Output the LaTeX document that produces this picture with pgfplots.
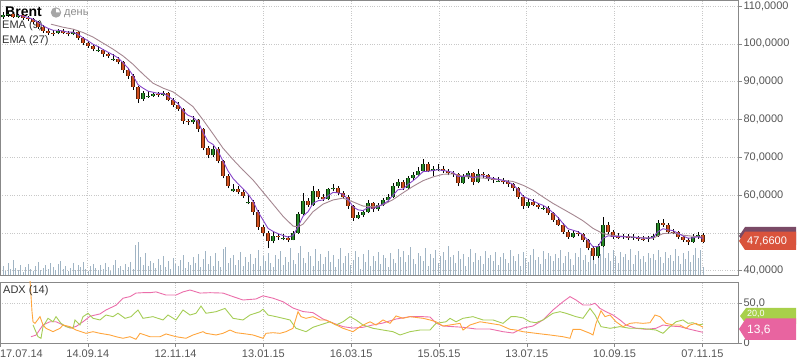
\documentclass[border=0pt]{standalone}
\usepackage{pgfplots}
\pgfplotsset{compat=1.18}
\usepackage{pgfplotstable}
\usepackage{fontspec}
\setmainfont{Liberation Sans}
\definecolor{cup}{RGB}{40,140,40}
\definecolor{cdn}{RGB}{210,80,30}
\definecolor{ema9}{RGB}{135,70,200}
\definecolor{ema27}{RGB}{165,135,145}
\definecolor{vol}{RGB}{160,180,196}
\definecolor{adx}{RGB}{235,110,170}
\definecolor{pdi}{RGB}{165,205,85}
\definecolor{mdi}{RGB}{255,165,60}
\definecolor{gridc}{RGB}{200,200,200}
\definecolor{axc}{RGB}{136,136,136}
\definecolor{labc}{RGB}{85,85,85}
\definecolor{tagred}{RGB}{217,83,60}
\definecolor{tagpur}{RGB}{122,74,102}
\definecolor{taggrn}{RGB}{168,208,74}
\definecolor{tagpink}{RGB}{232,100,160}

\pgfplotstableread{
x o h l c
0 107.0 108.3 106.6 107.5
5 107.5 108.6 107.2 108.0
10 108.0 108.4 106.8 107.2
15 107.0 108.0 106.9 107.5
20 107.5 107.8 106.2 106.8
25 106.8 107.3 106.0 106.5
30 106.5 106.9 105.3 105.8
35 105.8 106.0 104.0 104.5
40 104.5 104.9 103.0 103.5
45 103.5 104.0 102.4 103.0
50 103.0 103.6 102.2 102.8
55 102.8 104.0 102.5 103.5
60 103.5 103.9 102.6 103.0
65 103.0 103.4 102.0 102.6
70 102.6 103.8 102.3 103.2
75 103.2 103.5 101.0 101.5
80 101.5 101.9 99.6 100.2
85 100.2 100.8 99.0 99.5
90 99.5 99.9 98.0 98.6
95 98.0 99.3 97.8 98.3
100 98.3 98.6 96.6 97.2
105 97.2 97.8 96.2 96.8
110 95.8 97.3 95.5 96.0
115 96.0 96.6 94.6 95.2
120 95.2 95.5 92.4 93.0
125 93.0 93.5 90.8 91.5
130 91.5 91.9 87.8 88.5
135 88.5 88.9 84.4 85.5
140 85.5 87.6 85.0 87.0
145 86.0 87.4 85.8 86.3
150 86.3 87.3 86.0 86.8
155 86.8 87.2 85.9 86.5
160 86.5 87.5 86.1 86.9
165 86.9 87.2 84.8 85.2
170 85.2 85.6 83.2 83.8
175 83.8 84.5 82.3 82.8
180 82.8 83.0 78.8 79.5
185 79.5 80.1 78.6 79.2
190 79.2 80.9 78.9 79.8
195 79.8 80.2 76.8 77.5
200 77.5 77.8 71.8 72.5
205 72.5 73.0 69.8 70.5
210 70.5 73.0 70.0 72.3
215 72.3 72.6 68.4 69.0
220 69.0 69.4 64.4 65.0
225 65.0 65.5 61.8 62.5
230 61.0 63.0 60.8 61.5
235 61.5 62.4 60.2 60.8
240 60.8 61.6 59.2 59.8
245 57.8 60.3 57.6 58.2
250 58.2 58.6 54.8 55.5
255 55.5 56.0 50.8 51.5
260 51.5 52.0 49.3 50.0
265 50.0 50.4 45.9 47.8
270 47.8 50.2 47.2 49.3
275 49.3 49.8 48.2 48.8
280 48.3 49.6 48.0 48.6
285 48.6 49.2 47.6 48.2
290 48.2 50.6 48.0 50.0
295 50.0 55.6 49.8 55.0
300 55.0 60.5 54.6 58.5
305 58.5 59.2 56.9 57.5
310 57.5 62.3 57.2 61.0
315 61.0 61.5 58.9 59.5
320 59.5 60.2 58.4 59.0
325 59.0 62.0 58.6 61.5
330 61.5 62.9 61.0 62.0
335 62.0 62.4 60.0 60.5
340 60.5 61.0 58.9 59.5
345 59.5 59.9 56.4 57.0
350 57.0 57.4 53.2 54.0
355 54.0 55.5 53.6 54.8
360 54.8 56.0 54.2 55.5
365 55.5 58.8 55.2 57.8
370 57.8 58.2 55.6 56.2
375 56.2 58.0 55.8 57.5
380 57.5 59.3 57.1 58.6
385 58.6 60.4 58.2 59.5
390 59.5 63.2 59.2 62.5
395 62.5 64.3 62.0 63.5
400 63.5 63.9 61.4 62.0
405 62.0 65.1 61.7 64.5
410 64.5 66.0 64.0 65.3
415 65.3 67.3 65.0 66.5
420 66.5 69.5 66.2 68.2
425 68.2 68.7 66.0 66.5
430 66.5 67.6 65.0 66.8
435 66.8 68.2 66.3 67.0
440 67.0 67.6 65.8 66.3
445 66.3 66.9 65.2 65.9
450 65.9 66.5 64.9 65.5
455 65.5 65.9 62.4 63.2
460 63.2 65.6 62.9 64.8
465 64.8 66.4 64.3 65.8
470 65.8 66.2 62.6 63.5
475 63.5 66.9 63.1 65.5
480 65.5 66.1 64.6 65.2
485 65.2 65.7 63.6 64.2
490 64.2 64.7 63.2 63.9
495 63.5 64.9 63.4 63.8
500 63.8 64.4 62.8 63.4
505 63.4 63.9 62.2 62.8
510 62.8 63.2 61.2 61.8
515 61.8 62.1 58.9 59.5
520 59.5 59.9 56.3 57.0
525 57.0 58.9 56.6 58.3
530 58.3 58.9 57.0 57.5
535 57.5 58.0 56.2 56.8
540 56.3 57.4 56.1 56.6
545 56.6 57.0 54.7 55.2
550 55.2 55.6 53.0 53.5
555 53.5 54.2 51.8 52.2
560 52.2 52.6 49.7 50.2
565 50.2 50.8 48.4 49.0
570 49.0 50.6 48.6 50.0
575 50.0 50.5 49.1 49.6
580 49.6 50.0 47.6 48.1
585 48.1 48.5 45.4 46.0
590 46.0 46.4 42.8 43.8
595 43.8 47.1 43.4 46.5
600 46.5 54.3 46.2 52.0
605 52.0 52.9 49.6 50.2
610 50.2 50.8 48.4 49.0
615 49.0 49.9 48.3 48.9
620 48.9 49.8 48.4 49.1
625 49.1 49.7 48.1 48.7
630 48.7 49.6 48.2 48.8
635 48.8 49.3 47.9 48.5
640 48.5 49.2 47.8 48.4
645 48.4 49.1 47.6 48.6
650 48.6 49.8 48.2 49.2
655 49.2 53.5 49.0 52.5
660 52.5 53.6 51.6 52.2
665 52.2 52.6 49.8 50.3
670 50.3 51.0 49.6 50.2
675 50.2 50.6 48.3 48.8
680 48.8 49.3 47.6 48.2
685 48.2 48.6 46.9 47.6
690 47.6 49.6 47.3 48.9
695 48.9 50.3 48.5 49.4
700 49.4 49.9 47.2 47.66
}\candles

\pgfplotsset{panel/.style={scale only axis, width=738pt, xmin=-3, xmax=735, anchor=south west,
  axis line style={axc, line width=0.8pt},
  xtick={-3,84.8,172.6,260.4,348.2,436,523.8,611.6,699.4},
  tick align=outside, major tick length=4pt,
  tick style={axc, line width=0.6pt},
  grid=major, major grid style={gridc, dotted, line width=0.7pt},
  ticklabel style={font=\fontsize{11}{13}\selectfont, text=labc},
  ytick pos=right, yticklabel pos=right,
  yticklabel style={anchor=west, xshift=-2pt}}}

\begin{document}
\begin{tikzpicture}
% main frame
\begin{axis}[panel, at={(0pt,88pt)}, height=275pt, ymin=38.86, ymax=111.6,
  xticklabels={}, xtick style={draw=none},
  ytick={40,50,...,110},
  yticklabels={{40,0000},{},{60,0000},{70,0000},{80,0000},{90,0000},{100,0000},{110,0000}}]
\addplot[draw=none] coordinates {(0,50)};
\end{axis}
% volume
\begin{axis}[scale only axis, width=738pt, height=275pt, xmin=-3, xmax=735, ymin=0, ymax=275,
  anchor=south west, at={(0pt,88pt)}, hide axis]
\addplot[ycomb, vol, line width=1pt] table[row sep=\\, x expr=\coordindex*2.5, y index=0]{
9\\4\\12\\6\\15\\7\\5\\10\\3\\8\\11\\6\\4\\9\\13\\5\\7\\10\\6\\12\\
8\\5\\11\\14\\6\\9\\4\\7\\12\\5\\10\\8\\13\\6\\4\\9\\11\\7\\5\\10\\
6\\12\\8\\4\\10\\15\\7\\9\\5\\11\\8\\13\\6\\30\\33\\18\\10\\22\\9\\14\\
12\\7\\16\\10\\19\\8\\14\\6\\17\\11\\9\\15\\20\\7\\13\\10\\18\\12\\21\\8\\
16\\24\\11\\19\\9\\22\\14\\8\\26\\28\\12\\17\\20\\10\\15\\23\\9\\18\\13\\21\\
11\\17\\25\\9\\19\\14\\22\\12\\8\\20\\16\\24\\10\\18\\13\\27\\15\\11\\22\\29\\
17\\12\\23\\19\\9\\26\\14\\21\\11\\18\\24\\13\\20\\8\\16\\27\\12\\19\\22\\10\\
15\\24\\18\\6\\21\\13\\25\\9\\19\\14\\23\\11\\20\\17\\8\\22\\16\\12\\26\\18\\
24\\13\\20\\28\\16\\11\\22\\19\\14\\27\\9\\21\\17\\25\\12\\19\\23\\15\\29\\18\\
20\\12\\24\\16\\21\\9\\18\\26\\13\\22\\15\\19\\11\\24\\17\\20\\14\\23\\10\\18\\
22\\16\\12\\25\\19\\14\\21\\9\\23\\17\\13\\20\\26\\15\\18\\11\\24\\16\\22\\19\\
14\\21\\17\\25\\12\\19\\23\\16\\10\\22\\18\\27\\15\\20\\13\\24\\19\\11\\26\\21\\
28\\17\\22\\14\\25\\19\\12\\23\\18\\21\\15\\26\\11\\20\\24\\16\\19\\13\\22\\17\\
21\\15\\25\\18\\12\\23\\17\\20\\14\\26\\19\\11\\22\\16\\24\\13\\20\\27\\17\\25\\
8\\
};
\end{axis}
% labels
\node[anchor=west, font=\bfseries\fontsize{14}{16}\selectfont, inner sep=0pt] at (5pt,351pt) {Brent};
\fill[black!35] (56pt,350.5pt) circle (5.2pt);
\fill[white] (56pt,350.5pt) -- (56pt,354.5pt) arc (90:0:4pt) -- cycle;
\node[anchor=west, text=black!45, font=\fontsize{11}{13}\selectfont, inner sep=0pt] at (64pt,349.5pt) {день};
\node[anchor=west, text=black!80, font=\fontsize{11}{13}\selectfont, inner sep=0pt] at (2pt,337pt) {EMA (9)};
\node[anchor=west, text=black!80, font=\fontsize{11}{13}\selectfont, inner sep=0pt] at (2pt,322.5pt) {EMA (27)};
% price
\begin{axis}[scale only axis, width=738pt, height=275pt, xmin=-3, xmax=735, ymin=38.86, ymax=111.6,
  anchor=south west, at={(0pt,88pt)}, hide axis]
\addplot[quiver={u=0, v=\thisrow{h}-\thisrow{l}}, -, black, line width=0.7pt] table[x=x, y=l]{\candles};
\addplot[quiver={u=0, v=\thisrow{c}-\thisrow{o}}, -, black!70!cup, line width=3.4pt,
  restrict expr to domain={\thisrow{c}-\thisrow{o}}{0:1000}] table[x=x, y=o]{\candles};
\addplot[quiver={u=0, v=\thisrow{c}-\thisrow{o}}, -, cup, line width=2.4pt,
  restrict expr to domain={\thisrow{c}-\thisrow{o}}{0:1000}] table[x=x, y=o]{\candles};
\addplot[quiver={u=0, v=\thisrow{c}-\thisrow{o}}, -, black!60!cdn, line width=3.4pt,
  restrict expr to domain={\thisrow{c}-\thisrow{o}}{-1000:-0.001}] table[x=x, y=o]{\candles};
\addplot[quiver={u=0, v=\thisrow{c}-\thisrow{o}}, -, cdn, line width=2.4pt,
  restrict expr to domain={\thisrow{c}-\thisrow{o}}{-1000:-0.001}] table[x=x, y=o]{\candles};
\addplot[ema27, line width=0.9pt] coordinates {(48,105.2)(60,104.4)(70,103.9)(80,103.0)(90,101.8)(100,100.2)(110,98.6)(120,96.8)(130,94.6)(140,92.0)(150,89.6)(160,88.3)(170,87.3)(180,85.4)(190,83.4)(200,79.9)(210,76.2)(220,72.4)(230,69.4)(240,66.6)(250,64.0)(260,60.8)(270,57.6)(280,54.4)(290,51.8)(295,51.6)(300,52.3)(310,55.6)(320,57.6)(330,58.7)(340,59.2)(350,58.2)(360,57.1)(370,56.9)(380,57.4)(390,58.8)(400,60.6)(410,62.3)(420,63.8)(430,64.8)(440,65.5)(450,65.6)(460,65.0)(470,64.6)(480,64.5)(490,64.2)(500,63.9)(510,63.6)(520,62.6)(530,61.3)(540,59.5)(550,57.8)(560,56.3)(570,54.8)(580,53.2)(590,51.2)(600,49.8)(610,49.3)(620,49.1)(630,48.9)(640,48.7)(650,48.6)(660,49.8)(670,50.0)(680,49.4)(690,49.1)(700,48.9)};
\addplot[ema9, line width=0.9pt] coordinates {(15,107.6)(20,107.3)(25,107.0)(30,106.5)(35,105.7)(40,104.8)(45,104.1)(50,103.6)(55,103.6)(60,103.4)(65,103.1)(70,103.1)(75,102.5)(80,101.6)(85,100.8)(90,99.9)(95,99.3)(100,98.5)(105,97.8)(110,97.1)(115,96.3)(120,95.0)(125,93.6)(130,91.6)(135,89.2)(140,88.3)(145,87.5)(150,87.2)(155,86.9)(160,86.9)(165,86.2)(170,85.2)(175,84.2)(180,82.3)(185,81.1)(190,80.6)(195,79.4)(200,76.6)(205,74.2)(210,73.4)(215,71.6)(220,69.0)(225,66.4)(230,64.4)(235,63.0)(240,61.7)(245,60.3)(250,58.4)(255,55.6)(260,53.4)(265,51.2)(270,50.4)(275,49.8)(280,49.3)(285,48.9)(290,49.3)(295,51.6)(300,54.4)(305,55.6)(310,57.8)(315,58.5)(320,58.7)(325,59.8)(330,60.7)(335,60.6)(340,60.2)(345,58.9)(350,56.9)(355,56.1)(360,55.9)(365,56.7)(370,56.5)(375,56.9)(380,57.6)(385,58.4)(390,60.0)(395,61.4)(400,61.6)(405,62.8)(410,63.8)(415,64.9)(420,66.2)(425,66.3)(430,66.5)(435,66.7)(440,66.5)(445,66.3)(450,66.0)(455,64.9)(460,64.9)(465,65.3)(470,64.6)(475,65.0)(480,65.1)(485,64.7)(490,64.4)(495,64.2)(500,63.9)(505,63.5)(510,62.8)(515,61.5)(520,59.7)(525,59.1)(530,58.5)(535,57.8)(540,57.3)(545,56.5)(550,55.3)(555,54.1)(560,52.5)(565,51.1)(570,50.7)(575,50.3)(580,49.4)(585,48.0)(590,46.3)(595,46.4)(600,48.6)(605,49.2)(610,49.1)(615,49.0)(620,49.0)(625,48.9)(630,48.9)(635,48.7)(640,48.6)(645,48.6)(650,48.8)(655,50.3)(660,51.1)(665,50.8)(670,50.6)(675,49.9)(680,49.2)(685,48.6)(690,48.7)(695,49.0)(700,48.5)};
\end{axis}
% ADX panel
\begin{axis}[panel, at={(0pt,20pt)}, height=61pt, ymin=0, ymax=77.6,
  xticklabels={{\makebox[0pt][l]{17.07.14}},14.09.14,12.11.14,13.01.15,16.03.15,15.05.15,13.07.15,10.09.15,07.11.15},
  xtick pos=bottom, xticklabel style={yshift=1pt},
  ytick={0,50}, yticklabels={0,{50,0}}]
\addplot[adx, line width=0.9pt] coordinates {(28,8)(33,10)(40,23)(47,27)(53,27)(60,23)(67,19)(73,21)(80,27)(87,34)(97,37)(103,42)(113,48)(120,57)(127,59)(133,63.5)(140,64)(147,64)(153,65)(163,61)(173,61)(180,65)(187,67.4)(197,63.5)(207,64)(220,63.5)(230,59)(240,54.7)(253,56)(260,60)(270,57)(280,52.5)(290,44.5)(300,40)(310,38.6)(320,30.5)(330,25.4)(340,20.8)(350,19)(360,20)(370,23)(380,25.4)(393,30.5)(407,33.5)(420,33.5)(427,33)(433,25.4)(440,21.6)(450,20.8)(460,20)(473,17.8)(487,17.8)(500,14.4)(510,12.7)(520,19)(530,21.6)(540,29.3)(550,42)(560,52.5)(567,59)(573,54.7)(580,48.3)(587,48.3)(592,50.5)(597,44)(603,39.8)(610,35.6)(617,29.3)(623,22.9)(633,18.7)(643,17.4)(653,18.7)(660,22.9)(667,21.6)(677,20.8)(687,17.4)(693,15.6)(700,13.6)};
\addplot[pdi, line width=0.9pt] coordinates {(30,23)(35,8)(38,6)(40,20.8)(45,31.4)(50,27)(53,33.5)(58,25)(63,20.8)(70,18.7)(72,29.3)(77,23)(80,33.5)(85,37.8)(90,31.4)(97,29.3)(103,35.6)(110,33.5)(115,37.8)(122,31.4)(128,33.5)(135,42)(140,31.4)(150,33.5)(160,29.3)(165,35.6)(173,29.3)(180,42)(187,35.6)(193,37.8)(198,47)(203,37.8)(213,39.8)(222,44)(230,31.4)(240,29.3)(247,35.6)(257,39.8)(260,43)(265,35.6)(273,33.5)(280,31.4)(287,29.3)(293,18.7)(303,14.4)(310,20)(317,22.9)(327,27)(333,22.9)(340,27)(347,33.5)(353,29.3)(360,22.9)(370,18.7)(380,16.5)(390,14.4)(397,10.2)(407,14.4)(417,16.5)(427,16.5)(433,25)(443,27)(447,31.4)(453,27)(460,31.4)(470,33.5)(480,29.3)(490,29.3)(500,25)(508,33.5)(513,33.5)(520,32)(527,27)(533,25.8)(540,29.3)(550,37.8)(557,39.8)(563,37.8)(573,33.5)(580,31.4)(587,44)(592,35.6)(598,20.8)(607,18.7)(617,20.8)(627,18.7)(637,18.7)(647,17.4)(653,16.5)(660,12.3)(667,20.8)(673,27)(680,29.3)(685,25)(690,25.8)(695,22.9)(700,24)};
\addplot[mdi, line width=0.9pt] coordinates {(27,80)(29,40)(30,27)(32,25)(37,33.5)(40,23)(43,18.7)(50,14.4)(57,18.7)(60,22.9)(67,20.8)(73,16.5)(83,12.3)(90,14.4)(97,12.3)(107,10.2)(113,8)(120,6)(127,8)(133,4.7)(137,12.3)(147,8)(157,8)(163,11.5)(173,8)(183,6)(190,10.2)(200,14.4)(203,12.3)(213,10.2)(220,12.3)(227,16.5)(233,13.1)(243,11.5)(250,10.2)(260,6)(263,12.3)(270,13.1)(277,12.3)(283,14.4)(290,18.7)(295,39.8)(298,33.5)(303,31.4)(310,33.5)(317,29.3)(323,29.3)(330,25)(340,18.7)(350,14.4)(357,20.8)(367,27)(373,22.9)(380,29.3)(387,25)(393,34.4)(400,31.4)(407,33.5)(420,31.4)(427,29.3)(433,27)(440,21.6)(447,22.9)(457,25)(460,16.5)(467,22.9)(477,27)(487,25)(497,22.9)(507,17.4)(513,16.5)(520,14.4)(533,12.3)(547,10.2)(560,8)(567,6)(570,17.4)(577,17.4)(587,12.3)(590,10.2)(593,25)(598,41)(602,33.5)(607,35.6)(613,27)(620,20.8)(627,25)(633,25.8)(640,25)(647,25.8)(652,35.6)(657,33.5)(663,25)(670,22.9)(677,22.9)(683,18.7)(687,22.9)(693,25)(700,20)};
\end{axis}
\node[anchor=west, text=black!80, font=\fontsize{11}{13}\selectfont, inner sep=0pt] at (3pt,72pt) {ADX (14)};
% tags
\fill[tagpur] (739pt,127pt) -- (745pt,136pt) -- (796pt,136pt) -- (796pt,118pt) -- (745pt,118pt) -- cycle;
\fill[tagred] (739pt,122pt) -- (745pt,131.3pt) -- (796pt,131.3pt) -- (796pt,113pt) -- (745pt,113pt) -- cycle;
\node[anchor=west, text=white, font=\fontsize{11}{13}\selectfont, inner sep=0pt] at (747pt,122pt) {47,6600};
\fill[taggrn] (740pt,47pt) -- (746pt,55pt) -- (796pt,55pt) -- (796pt,39pt) -- (746pt,39pt) -- cycle;
\node[anchor=west, text=white, font=\fontsize{9}{10}\selectfont, inner sep=0pt] at (747pt,49.5pt) {20,0};
\fill[tagpink] (739pt,34pt) -- (746pt,44.7pt) -- (796pt,44.7pt) -- (796pt,23pt) -- (746pt,23pt) -- cycle;
\node[anchor=west, text=white, font=\fontsize{12}{14}\selectfont, inner sep=0pt] at (747pt,33pt) {13,6};
\pgfresetboundingbox
\useasboundingbox (0pt,0pt) rectangle (798pt,363pt);
\end{tikzpicture}
\end{document}
